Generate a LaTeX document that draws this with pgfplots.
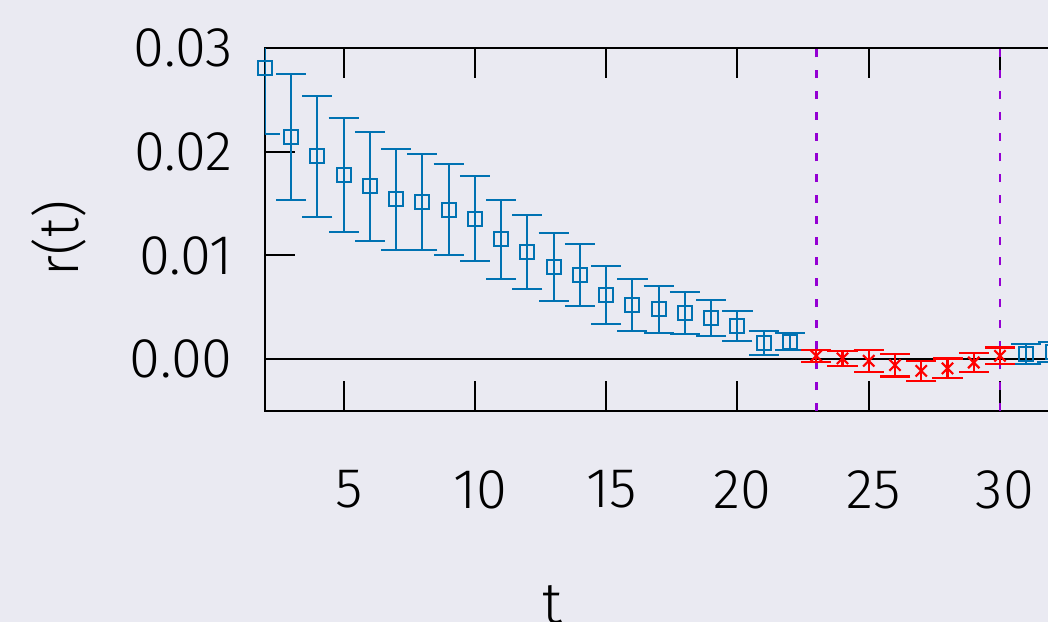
\documentclass[border=0pt]{standalone}
\usepackage{pgfplots}
\pgfplotsset{compat=1.18}
\usepackage{fontspec}
\setmainfont{Fira Sans}[UprightFont={* Light}]
\definecolor{bg}{HTML}{EAEAF2}
\definecolor{gblue}{HTML}{0072B2}
\definecolor{gpurple}{HTML}{9400D3}
\begin{document}
\begin{tikzpicture}
\useasboundingbox (-132.5bp,-105.5bp) rectangle (391.5bp,205.5bp);
\fill[bg] (-132.5bp,-105.5bp) rectangle (391.5bp,205.5bp);
\clip (-132.5bp,-105.5bp) rectangle (391.5bp,205.5bp);
\begin{axis}[
  at={(0,0)}, anchor=south west,
  scale only axis, width=420bp, height=181.5bp,
  xmin=2, xmax=34, ymin=-0.005, ymax=0.03,
  xtick={5,10,...,30}, ytick={0,0.01,0.02,0.03},
  tick align=inside, major tick length=15bp,
  axis line style={line width=1bp, black},
  every tick/.style={black, line width=1bp},
  scaled y ticks=false,
  ticklabel style={font=\fontsize{28bp}{34bp}\selectfont, inner sep=0pt},
  yticklabel style={/pgf/number format/fixed, /pgf/number format/fixed zerofill, /pgf/number format/precision=2, /pgf/number format/assume math mode=true},
  xticklabel style={/pgf/number format/assume math mode=true},
  every x tick label/.append style={anchor=north, yshift=-29.5bp, xshift=2.5bp},
  every y tick label/.append style={anchor=east, xshift=-16bp},
  xlabel={t},
  xlabel style={at={(axis description cs:0.3417,0)}, anchor=north, inner sep=0pt, yshift=-87bp, font=\fontsize{29bp}{34bp}\selectfont},
  ylabel={r(t)},
  ylabel style={at={(axis description cs:-0.2452,0.4766)}, anchor=center, font=\fontsize{28bp}{34bp}\selectfont},
]
\addplot[black, line width=1bp] coordinates {(2,0) (34,0)};
\addplot[gpurple, line width=1.4bp, dash pattern=on 4bp off 6.4bp] coordinates {(23,-0.005) (23,0.03)};
\addplot[gpurple, line width=1.4bp, dash pattern=on 4bp off 6.4bp] coordinates {(30,-0.005) (30,0.03)};
\addplot[gblue, only marks, mark=square, mark size=3.5bp, line width=1bp,
  error bars/.cd, y dir=both, y explicit, error mark=|, error mark options={mark size=7.5bp, line width=1bp, gblue},
  error bar style={line width=1bp, gblue}]
  table[x=t, y=r, y error=e] {
t r e
2 0.02805 0.0063
3 0.02141 0.00605
4 0.01955 0.0058
5 0.01776 0.00553
6 0.01666 0.00523
7 0.01541 0.0049
8 0.01513 0.00463
9 0.01442 0.00436
10 0.01356 0.00409
11 0.01154 0.0038
12 0.01036 0.00355
13 0.00891 0.0033
14 0.00814 0.0030
15 0.0062 0.00277
16 0.00526 0.0025
17 0.00481 0.00228
18 0.00449 0.00203
19 0.00394 0.00175
20 0.0032 0.00149
21 0.00154 0.00117
22 0.0017 0.00079
31 0.0005 0.0010
32 0.0007 0.0010
};
\addplot[red, only marks, mark=x, mark size=4bp, line width=1.1bp,
  error bars/.cd, y dir=both, y explicit, error mark=|, error mark options={mark size=7.5bp, line width=1.1bp, red},
  error bar style={line width=1.1bp, red}]
  table[x=t, y=r, y error=e] {
t r e
23 0.00032 0.00057
24 0.00007 0.00072
25 -0.00016 0.00105
26 -0.00058 0.0011
27 -0.00113 0.00097
28 -0.00089 0.00095
29 -0.00032 0.0009
30 0.00032 0.0008
};
\end{axis}
\end{tikzpicture}
\end{document}
